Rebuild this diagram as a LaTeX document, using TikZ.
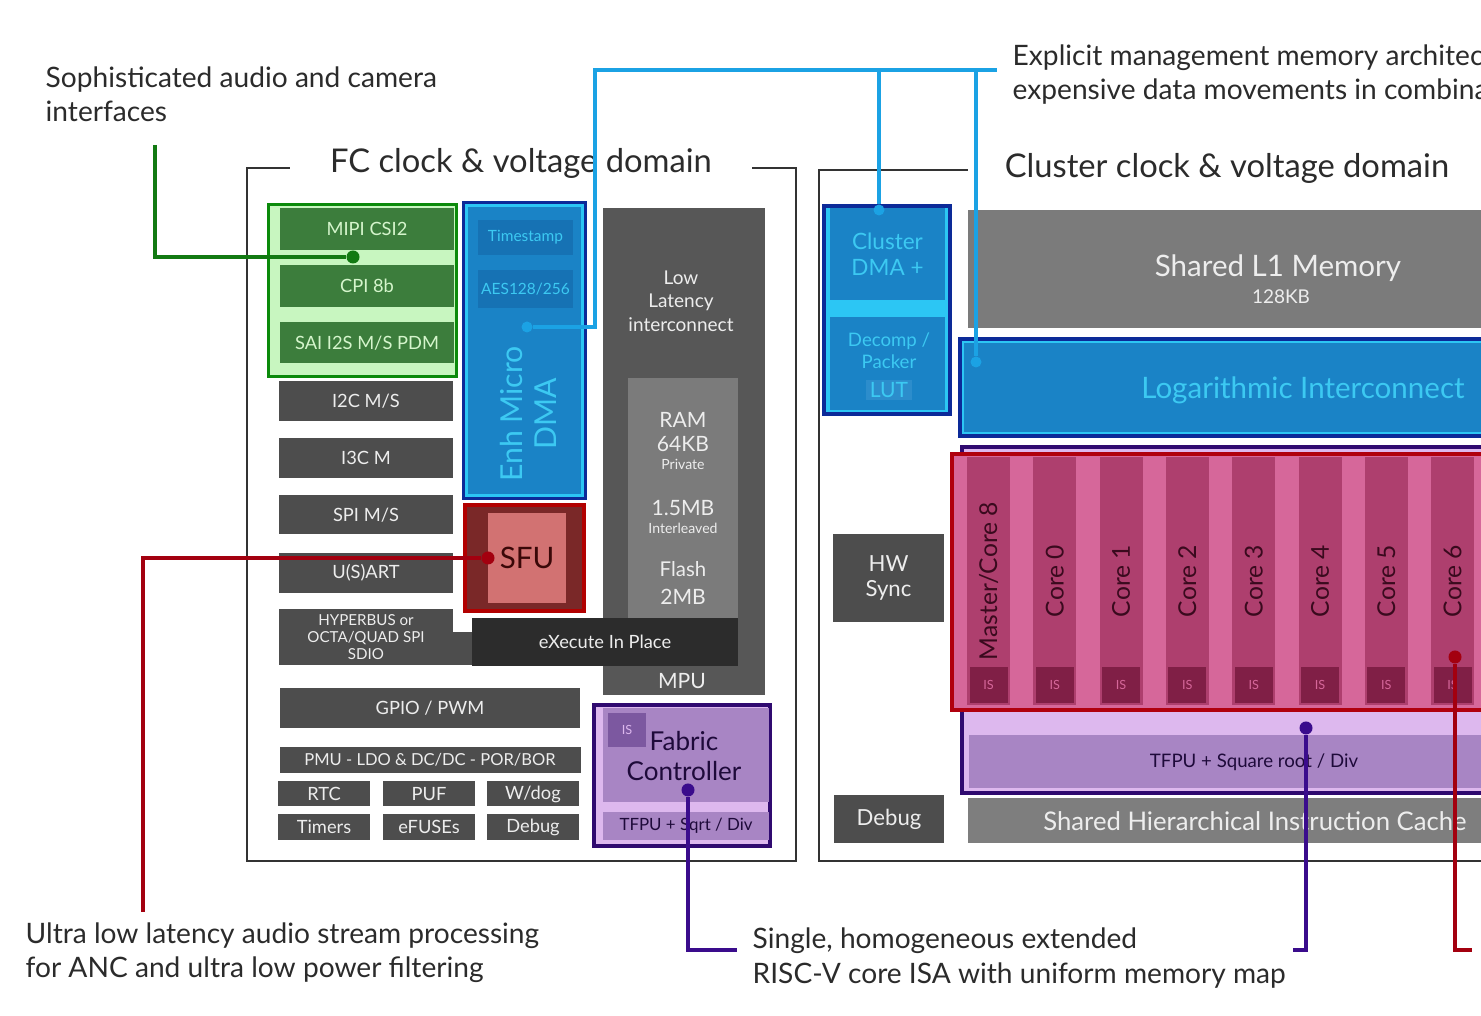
\documentclass[tikz,border=0pt]{standalone}
\usepackage{fontspec}
\setmainfont{Lato}
\usepackage{xcolor}
\usepackage{tikz}
\usetikzlibrary{positioning}

\definecolor{txtdark}{HTML}{2B2B2B}
\definecolor{frame}{HTML}{333333}
\definecolor{blkgray}{HTML}{4D4D4D}
\definecolor{icgray}{HTML}{575757}
\definecolor{ramgray}{HTML}{7B7B7B}
\definecolor{xipgray}{HTML}{2C2C2C}
\definecolor{cachegray}{HTML}{7E7E7E}
\definecolor{blktext}{HTML}{EDEDED}
\definecolor{grnborder}{HTML}{0B8A0B}
\definecolor{grnlight}{HTML}{C8F6C0}
\definecolor{grnblk}{HTML}{3C7D3C}
\definecolor{grntext}{HTML}{D5F5CC}
\definecolor{grnline}{HTML}{127A12}
\definecolor{bdark}{HTML}{0C2A98}
\definecolor{bcyan}{HTML}{2CC6F4}
\definecolor{bfill}{HTML}{1A83C6}
\definecolor{bsub}{HTML}{1672B4}
\definecolor{blut}{HTML}{2C8DCC}
\definecolor{btext}{HTML}{3CC9F2}
\definecolor{bline}{HTML}{1BA2E4}
\definecolor{sfuborder}{HTML}{B20000}
\definecolor{sfudark}{HTML}{7A2828}
\definecolor{sfulight}{HTML}{D27272}
\definecolor{sfutext}{HTML}{3A0808}
\definecolor{redline}{HTML}{A3000F}
\definecolor{pdark}{HTML}{300A70}
\definecolor{plight}{HTML}{DDB8EE}
\definecolor{pmid}{HTML}{A885C4}
\definecolor{pis}{HTML}{7C58A0}
\definecolor{ptext}{HTML}{1E0A3A}
\definecolor{purpline}{HTML}{3A0C8C}
\definecolor{coreborder}{HTML}{B0000E}
\definecolor{corebg}{HTML}{D6679A}
\definecolor{corefill}{HTML}{AE3F6E}
\definecolor{coreis}{HTML}{801F46}
\definecolor{coretext}{HTML}{3A0A1E}

\begin{document}
\begin{tikzpicture}[
  x=0.01cm, y=-0.01cm,
  sz/.style 2 args={minimum width=#1*0.01cm, minimum height=#2*0.01cm},
  blk/.style={rectangle, fill=blkgray, text=blktext, inner sep=0pt,
              align=center, font=\fontsize{5.2}{6}\selectfont},
  gblk/.style={blk, fill=grnblk, text=grntext},
  ggrp/.style={rectangle, fill=grnlight, draw=grnborder, line width=1pt, inner sep=0pt},
  ubox/.style={rectangle, fill=bfill, draw=bcyan, line width=0.8pt,
               preaction={draw=bdark, line width=2.6pt}, inner sep=0pt},
  usub/.style={blk, fill=bsub, text=btext, font=\fontsize{4.4}{5.2}\selectfont},
  pbox/.style={rectangle, fill=plight, draw=pdark, line width=1.2pt, inner sep=0pt},
  pblk/.style={blk, fill=pmid, text=ptext},
  corecol/.style={blk, fill=corefill, text=coretext, rotate=90,
                  font=\fontsize{7}{8}\selectfont},
  isbox/.style={blk, fill=coreis, text=corebg, font=\fontsize{3.6}{4}\selectfont},
  dom/.style={rectangle, draw=frame, line width=0.6pt, inner sep=0pt},
  dtitle/.style={fill=white, inner xsep=0.4cm, inner ysep=1pt, text=txtdark,
                 font=\fontsize{9.3}{11}\selectfont},
  note/.style={anchor=west, align=left, inner sep=0pt, text=txtdark,
               font=\fontsize{8}{9.7}\selectfont},
  link/.style={line width=0.9pt},
  dot/.style={circle, inner sep=0pt, minimum size=0.13cm}
]
\path[use as bounding box, fill=white] (0,0) rectangle (1481,1016);

% domains
\node[dom, sz={549}{693}] (fcdom) at (521.5,514.5) {};
\node[dtitle] (fctitle) at (521,163) {FC clock \& voltage domain};
\node[dom, sz={701}{691}] (cldom) at (1169.5,515.5) {};
\node[dtitle, inner xsep=0.37cm] (cltitle) at (1227,168) {Cluster clock \& voltage domain};

% FC peripherals
\node[ggrp, sz={188}{172}] (cam) at (362.5,290.5) {};
\node[gblk, sz={174}{42}] (mipi) at (367,229) {MIPI CSI2};
\node[gblk, sz={174}{42}] (cpi)  at (367,286) {CPI 8b};
\node[gblk, sz={174}{41}] (sai)  at (367,343) {SAI I2S M/S PDM};
\node[blk, sz={174}{40}] (itwoc)  at (366,401) {I2C M/S};
\node[blk, sz={174}{40}] (ithreec) at (366,458) {I3C M};
\node[blk, sz={174}{39}] (spi)   at (366,515) {SPI M/S};
\node[blk, sz={174}{40}] (usart) at (366,573) {U(S)ART};
\node[blk, sz={174}{56}, font=\fontsize{4.3}{4.9}\selectfont] (hyper) at (366,637)
  {HYPERBUS or\\OCTA/QUAD SPI\\SDIO};
\node[blk, sz={22}{33}] (hyplink) at (463,648.5) {};
\node[blk, sz={300}{40}] (gpio) at (430,708) {GPIO / PWM};
\node[blk, sz={301}{26}, font=\fontsize{4.7}{5.5}\selectfont] (pmu) at (430,760)
  {PMU - LDO \& DC/DC - POR/BOR};
\node[blk, sz={92}{25}] (rtc)    at (324,794) {RTC};
\node[blk, sz={92}{25}] (puf)    at (429,794) {PUF};
\node[blk, sz={92}{25}] (wdog)   at (533,794) {W/dog};
\node[blk, sz={92}{26}] (timers) at (324,827) {Timers};
\node[blk, sz={92}{26}] (efuse)  at (429,827) {eFUSEs};
\node[blk, sz={92}{26}] (fcdbg)  at (533,827) {Debug};

% micro DMA and SFU
\node[ubox, sz={116}{290}] (udma) at (524.5,350.5) {};
\node[usub, sz={95}{35}] (tstamp) at (525.5,237.5) {Timestamp};
\node[usub, sz={95}{38}] (aes) at (525.5,289) {AES128/256};
\node[rotate=90, align=center, text=btext, font=\fontsize{8.6}{9.6}\selectfont]
  (udmatxt) at (528,414) {Enh Micro\\DMA};
\node[rectangle, fill=sfudark, draw=sfuborder, line width=1.2pt, sz={119}{106}]
  (sfu) at (524.5,558) {};
\node[blk, fill=sfulight, text=sfutext, sz={78}{90}, font=\fontsize{8.4}{9}\selectfont]
  (sfuin) at (527,558) {SFU};

% interconnect and memory
\node[blk, fill=icgray, sz={162}{487}] (llic) at (684,451.5) {};
\node[text=blktext, align=center, font=\fontsize{5.4}{6.7}\selectfont] (llictxt) at (681,301)
  {Low\\Latency\\interconnect};
\node[blk, fill=ramgray, sz={110}{240}] (ram) at (683,498) {};
\node[text=blktext, align=center, font=\fontsize{6}{7}\selectfont] (ramtxt) at (683,432) {RAM\\64KB};
\node[text=blktext, font=\fontsize{4}{4.5}\selectfont] (ramprv) at (683,464) {Private};
\node[text=blktext, font=\fontsize{6}{7}\selectfont] (ramil) at (683,508) {1.5MB};
\node[text=blktext, font=\fontsize{4}{4.5}\selectfont] (ramiltxt) at (683,528) {Interleaved};
\node[text=blktext, font=\fontsize{5.8}{7}\selectfont] (flash) at (683,569) {Flash};
\node[text=blktext, font=\fontsize{6}{7}\selectfont] (flashsz) at (683,597) {2MB};
\node[blk, fill=xipgray, sz={266}{48}, font=\fontsize{5.2}{6}\selectfont] (xip) at (605,642) {eXecute In Place};
\node[text=blktext, font=\fontsize{6}{7}\selectfont] (mpu) at (682,681) {MPU};

% fabric controller
\node[pbox, sz={176}{141}] (fc) at (682,775.5) {};
\node[pblk, sz={166}{94}] (fcmain) at (686,755) {};
\node[blk, fill=pis, text=plight, sz={38}{34}, font=\fontsize{3.6}{4}\selectfont] (fcis) at (627,730) {IS};
\node[text=ptext, align=center, font=\fontsize{7.4}{8.3}\selectfont] (fctxt) at (684,756) {Fabric\\Controller};
\node[pblk, sz={166}{28}, font=\fontsize{4.8}{6}\selectfont] (fcfpu) at (686,826) {TFPU + Sqrt / Div};

% cluster
\node[rectangle, fill=bcyan, draw=bdark, line width=1.3pt, sz={126}{208}] (cdma) at (887,310) {};
\node[blk, fill=bfill, text=btext, sz={115}{92}, font=\fontsize{6.4}{7.4}\selectfont]
  (cdmatop) at (887.5,254) {Cluster\\DMA +};
\node[blk, fill=bfill, sz={115}{93}] (cdmabot) at (887.5,363.5) {};
\node[text=btext, align=center, font=\fontsize{5.3}{6.3}\selectfont] (decomp) at (889,351) {Decomp /\\Packer};
\node[blk, fill=blut, text=btext, sz={46}{20}, font=\fontsize{6}{7}\selectfont] (lut) at (889,390) {LUT};
\node[blk, fill=ramgray, sz={524}{118}] (lone) at (1230,269) {};
\node[text=blktext, font=\fontsize{8.4}{9}\selectfont] (lonetxt) at (1278,268) {Shared L1 Memory};
\node[text=blktext, font=\fontsize{5.4}{6}\selectfont] (lonesz) at (1281,297) {128KB};
\node[ubox, sz={537}{91}] (logic) at (1231.5,387.5) {};
\node[text=btext, font=\fontsize{8.4}{9}\selectfont] (logictxt) at (1303,390) {Logarithmic Interconnect};
\node[pbox, line width=1pt, sz={538}{346}] (tfpu) at (1231,620) {};
\node[pblk, sz={524}{53}] (tfpuin) at (1231,761.5) {};
\node[text=ptext, font=\fontsize{5.3}{6}\selectfont] (tfputxt) at (1254,762) {TFPU + Square root / Div};
\node[rectangle, fill=corebg, draw=coreborder, line width=1.2pt, sz={548}{256}] (cores) at (1226,582) {};
\node[corecol, sz={248}{43}] (core8) at (988.5,581)  {Master/Core 8};
\node[corecol, sz={248}{43}] (core0) at (1054.8,581) {Core 0};
\node[corecol, sz={248}{43}] (core1) at (1121.1,581) {Core 1};
\node[corecol, sz={248}{43}] (core2) at (1187.4,581) {Core 2};
\node[corecol, sz={248}{43}] (core3) at (1253.7,581) {Core 3};
\node[corecol, sz={248}{43}] (core4) at (1320,581)   {Core 4};
\node[corecol, sz={248}{43}] (core5) at (1386.3,581) {Core 5};
\node[corecol, sz={248}{43}] (core6) at (1452.6,581) {Core 6};
\node[isbox, sz={38}{36}] (is8) at (988.5,685)  {IS};
\node[isbox, sz={38}{36}] (is0) at (1054.8,685) {IS};
\node[isbox, sz={38}{36}] (is1) at (1121.1,685) {IS};
\node[isbox, sz={38}{36}] (is2) at (1187.4,685) {IS};
\node[isbox, sz={38}{36}] (is3) at (1253.7,685) {IS};
\node[isbox, sz={38}{36}] (is4) at (1320,685)   {IS};
\node[isbox, sz={38}{36}] (is5) at (1386.3,685) {IS};
\node[isbox, sz={38}{36}] (is6) at (1452.6,685) {IS};
\node[blk, sz={111}{88}, font=\fontsize{6.3}{6.9}\selectfont] (hwsync) at (888.5,578) {HW\\Sync};
\node[blk, sz={110}{48}, font=\fontsize{6.3}{7}\selectfont] (cldbg) at (889,819) {Debug};
\node[blk, fill=cachegray, sz={524}{45}] (cache) at (1230,820.5) {};
\node[text=blktext, font=\fontsize{7.3}{8}\selectfont] (cachetxt) at (1255,821) {Shared Hierarchical Instruction Cache};

% connectors
\coordinate (gstart) at (155,145);
\node[dot, fill=grnline] (gdot) at (353,257) {};
\draw[link, grnline] (gstart) |- (gdot);

\coordinate (bturn) at (595,70);
\coordinate (bend) at (997,70);
\node[dot, fill=bline, minimum size=0.11cm] (bdot1) at (527,327) {};
\node[dot, fill=bline, minimum size=0.11cm] (bdot2) at (879,210) {};
\node[dot, fill=bline, minimum size=0.11cm] (bdot3) at (976,362) {};
\draw[link, bline] (bdot1) -| (bturn) -- (bend);
\draw[link, bline] (bdot2) -- (bdot2 |- bturn);
\draw[link, bline] (bdot3) -- (bdot3 |- bturn);

\coordinate (rend1) at (143,912);
\coordinate (rend2) at (1472,950);
\node[dot, fill=redline] (rdot1) at (488,558) {};
\node[dot, fill=redline] (rdot2) at (1455,657) {};
\draw[link, redline] (rdot1) -| (rend1);
\draw[link, redline] (rdot2) |- (rend2);

\coordinate (pend1) at (737,950);
\coordinate (pend2) at (1293,950);
\node[dot, fill=purpline] (pdot1) at (688,790) {};
\node[dot, fill=purpline] (pdot2) at (1306,728) {};
\draw[link, purpline] (pdot1) |- (pend1);
\draw[link, purpline] (pdot2) |- (pend2);

% notes
\node[note] (camnote) at (45,94) {Sophisticated audio and camera\\interfaces};
\node[note] (memnote) at (1012,75) {Explicit management memory architec\\expensive data movements in combina};
\node[note] (ancnote) at (25,953) {Ultra low latency audio stream processing\\for ANC and ultra low power filtering};
\node[note] (isanote) at (752,958) {Single, homogeneous extended\\RISC-V core ISA with uniform memory map};
\end{tikzpicture}
\end{document}
